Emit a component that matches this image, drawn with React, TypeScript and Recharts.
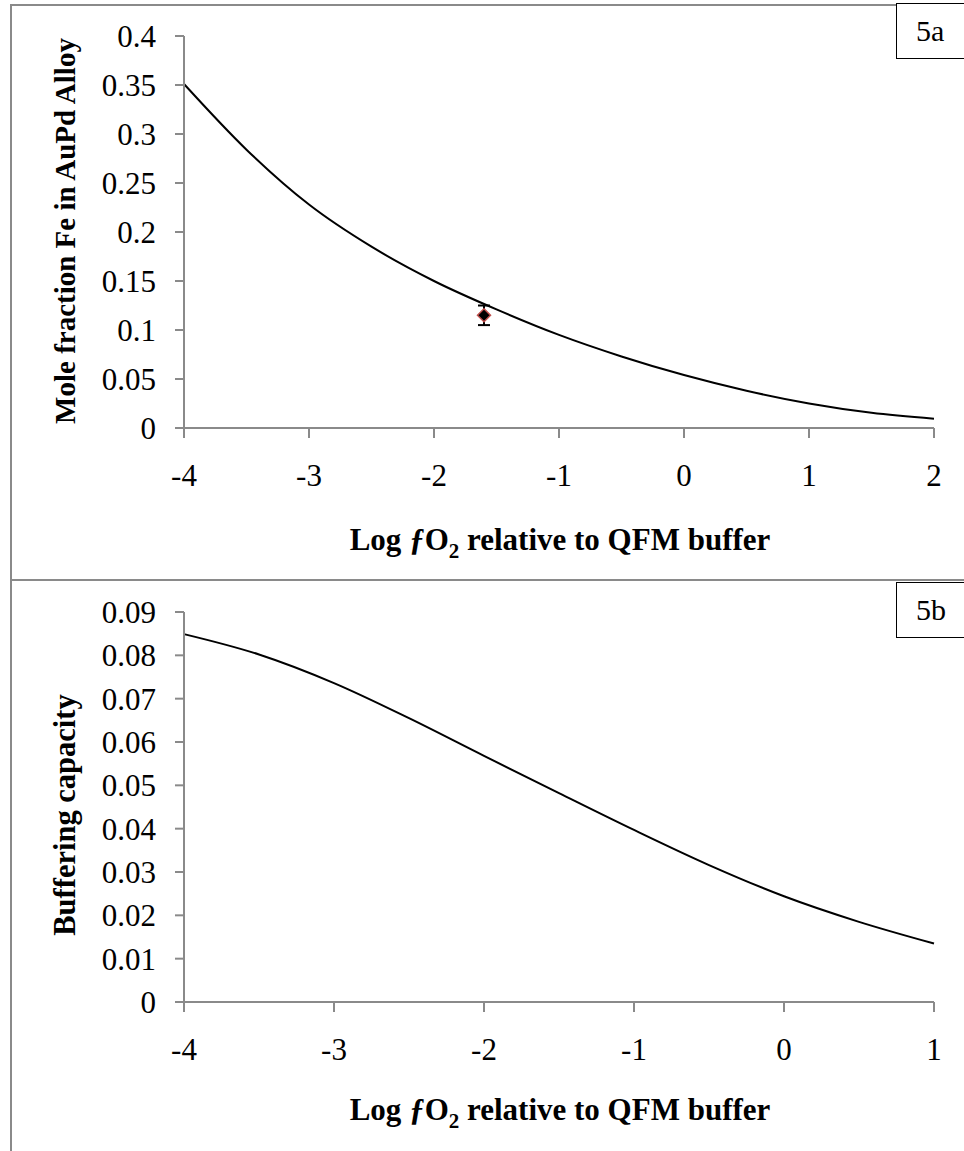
import React from "react";
import { ErrorBar, Line, LineChart, XAxis, YAxis } from "recharts";

// Figure 5a: Fe mole fraction in the AuPd alloy vs log fO2 (relative to QFM)
const xA = [-4, -3.5, -3, -2.5, -2, -1.5, -1, -0.5, 0, 0.5, 1, 1.5, 2];
const feFraction = [0.351, 0.284, 0.228, 0.185, 0.15, 0.121, 0.095, 0.073, 0.054, 0.038, 0.025, 0.0155, 0.0095];
const measuredX = [-1.6];
const measuredY = [0.115];
const measuredErr = [0.01];
const ticksXA = [-4, -3, -2, -1, 0, 1, 2];
const ticksYA = [0, 0.05, 0.1, 0.15, 0.2, 0.25, 0.3, 0.35, 0.4];

// Figure 5b: buffering capacity
const xB = [-4, -3.5, -3, -2.5, -2, -1.5, -1, -0.5, 0, 0.5, 1];
const buffering = [0.0849, 0.0802, 0.0736, 0.0655, 0.0568, 0.0482, 0.0397, 0.0316, 0.0244, 0.0185, 0.0135];
const ticksXB = [-4, -3, -2, -1, 0, 1];
const ticksYB = [0, 0.01, 0.02, 0.03, 0.04, 0.05, 0.06, 0.07, 0.08, 0.09];

const curveA = xA.map((x, i) => ({ x, y: feFraction[i] }));
const pointA = measuredX.map((x, i) => ({ x, y: measuredY[i], err: measuredErr[i] }));
const curveB = xB.map((x, i) => ({ x, y: buffering[i] }));

const SERIF = "'Liberation Serif', 'Times New Roman', serif";
const AXIS = "#8a8a8a";
const tickStyle = { fill: "#000", fontSize: 31, fontFamily: SERIF };

function Diamond(props: any) {
  const { cx, cy, index } = props;
  if (cx == null || cy == null) return <g key={`d-${index}`} />;
  const r = 6.5;
  return (
    <polygon
      key={`d-${index}`}
      points={`${cx},${cy - r} ${cx + r},${cy} ${cx},${cy + r} ${cx - r},${cy}`}
      fill="#000"
      stroke="#c0504d"
      strokeWidth={1.5}
    />
  );
}

function XTitle({ top }: { top: number }) {
  return (
    <div
      style={{
        position: "absolute",
        left: 560,
        top,
        transform: "translate(-50%, -50%)",
        whiteSpace: "nowrap",
        fontFamily: SERIF,
        fontWeight: "bold",
        fontSize: 31,
      }}
    >
      Log <span style={{ fontStyle: "italic" }}>ƒ</span>O<sub style={{ fontSize: 21 }}>2</sub> relative to QFM buffer
    </div>
  );
}

function YTitle({ text, top, size }: { text: string; top: number; size: number }) {
  return (
    <div
      style={{
        position: "absolute",
        left: 65,
        top,
        transform: "translate(-50%, -50%) rotate(-90deg)",
        whiteSpace: "nowrap",
        fontFamily: SERIF,
        fontWeight: "bold",
        fontSize: size,
      }}
    >
      {text}
    </div>
  );
}

function PanelTag({ text, top }: { text: string; top: number }) {
  return (
    <div
      style={{
        position: "absolute",
        left: 896,
        top,
        width: 74,
        height: 56,
        boxSizing: "border-box",
        border: "1.5px solid #000",
        background: "#fff",
        fontFamily: SERIF,
        fontSize: 30,
        lineHeight: "54px",
        paddingLeft: 19,
      }}
    >
      {text}
    </div>
  );
}

export default function App() {
  return (
    <div
      style={{
        position: "absolute",
        left: 0,
        top: 0,
        width: 964,
        height: 1151,
        overflow: "hidden",
        background: "#fff",
      }}
    >
      {/* outer frame and divider */}
      <div
        style={{
          position: "absolute",
          left: 10,
          top: 4,
          width: 1000,
          height: 1200,
          borderLeft: `2px solid ${AXIS}`,
          borderTop: `2px solid ${AXIS}`,
        }}
      />
      <div style={{ position: "absolute", left: 10, top: 579, width: 1000, height: 2, background: AXIS }} />

      <div style={{ position: "absolute", left: 0, top: 0 }}>
        <LineChart width={964} height={580} margin={{ top: 36, right: 30, bottom: 0, left: 0 }}>
          <XAxis
            type="number"
            dataKey="x"
            domain={[-4, 2]}
            ticks={ticksXA}
            height={152}
            stroke={AXIS}
            strokeWidth={2}
            tickSize={10}
            tickMargin={26}
            tick={tickStyle}
            allowDuplicatedCategory={false}
          />
          <YAxis
            type="number"
            domain={[0, 0.4]}
            ticks={ticksYA}
            width={184}
            stroke={AXIS}
            strokeWidth={2}
            tickSize={9}
            tickMargin={19}
            tick={tickStyle}
          />
          <Line
            data={curveA}
            dataKey="y"
            type="monotone"
            stroke="#000"
            strokeWidth={2}
            dot={false}
            isAnimationActive={false}
          />
          <Line
            data={pointA}
            dataKey="y"
            stroke="none"
            dot={Diamond}
            activeDot={false}
            isAnimationActive={false}
          >
            <ErrorBar dataKey="err" direction="y" width={6} stroke="#000" strokeWidth={2} />
          </Line>
        </LineChart>
      </div>

      <div style={{ position: "absolute", left: 0, top: 580 }}>
        <LineChart width={964} height={571} margin={{ top: 32, right: 30, bottom: 0, left: 0 }}>
          <XAxis
            type="number"
            dataKey="x"
            domain={[-4, 1]}
            ticks={ticksXB}
            height={149}
            stroke={AXIS}
            strokeWidth={2}
            tickSize={10}
            tickMargin={26}
            tick={tickStyle}
          />
          <YAxis
            type="number"
            domain={[0, 0.09]}
            ticks={ticksYB}
            width={184}
            stroke={AXIS}
            strokeWidth={2}
            tickSize={9}
            tickMargin={19}
            tick={tickStyle}
          />
          <Line
            data={curveB}
            dataKey="y"
            type="monotone"
            stroke="#000"
            strokeWidth={2}
            dot={false}
            isAnimationActive={false}
          />
        </LineChart>
      </div>

      <XTitle top={543} />
      <YTitle text="Mole fraction Fe in AuPd Alloy" top={231} size={29} />
      <XTitle top={1113} />
      <YTitle text="Buffering capacity" top={815} size={30.5} />
      <PanelTag text="5a" top={3} />
      <PanelTag text="5b" top={582} />
    </div>
  );
}
